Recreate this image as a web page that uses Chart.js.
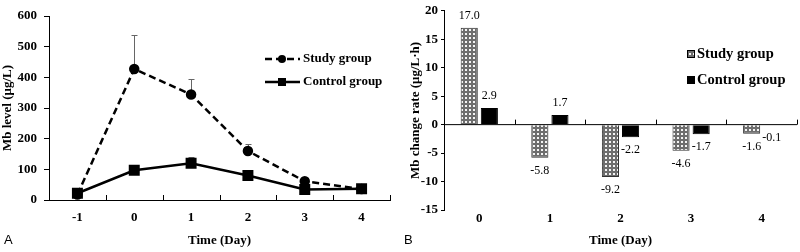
<!DOCTYPE html>
<html>
<head>
<meta charset="utf-8">
<script src="https://cdn.jsdelivr.net/npm/chart.js@4"></script>
<style>
  body { margin: 0; background: #fff; }
  #wrap { position: relative; width: 800px; height: 252px; }
  .panel { position: absolute; top: 0; width: 400px; height: 252px; }
  .tag { position: absolute; top: 232px; font: 13px 'Liberation Sans', Arial, sans-serif; color: #000; }
</style>
</head>
<body>
<div id="wrap">
  <div class="panel" style="left:0"><canvas id="chartA" width="400" height="252"></canvas></div>
  <div class="panel" style="left:400px"><canvas id="chartB" width="400" height="252"></canvas></div>
  <div class="tag" style="left:4px">A</div>
  <div class="tag" style="left:404px">B</div>
</div>
<script>
// Panel A: Mb level over time
const daysA = ['-1', '0', '1', '2', '3', '4'];
const studyMb = [18, 427, 344, 160, 61, 36];
const studyErr = [2, 110, 52, 21, 5, 3];
const controlMb = [22, 97, 120, 80, 34, 37];
const controlErr = [3, 7, 21, 7, 3, 3];

// Panel B: Mb change rate
const daysB = ['0', '1', '2', '3', '4'];
const studyRate = [17.0, -5.8, -9.2, -4.6, -1.6];
const controlRate = [2.9, 1.7, -2.2, -1.7, -0.1];

const serif = "'Liberation Serif', 'Times New Roman', serif";
Chart.defaults.font.family = serif;
Chart.defaults.color = '#000';

// crosshatch fill like the original (gray lattice, white dots)
function hatch() {
  const c = document.createElement('canvas');
  c.width = 4; c.height = 4;
  const g = c.getContext('2d');
  g.fillStyle = '#6e6e6e';
  g.fillRect(0, 0, 4, 4);
  g.fillStyle = '#f4f4f4';
  g.fillRect(1, 1, 2, 2);
  return g.createPattern(c, 'repeat');
}
const hatchFill = hatch();

// small ticks pointing up from the category axis
const upTicks = {
  id: 'upTicks',
  afterDraw(chart, args, opts) {
    const x = chart.scales.x, a = chart.chartArea, ctx = chart.ctx;
    const y = opts.atZero ? chart.scales.y.getPixelForValue(0) : a.bottom;
    const n = x.ticks.length, w = (a.right - a.left) / n;
    ctx.save();
    ctx.strokeStyle = '#000';
    ctx.lineWidth = 1;
    ctx.beginPath();
    if (opts.atZero) { ctx.moveTo(a.left, y); ctx.lineTo(a.right, y); }
    for (let i = 1; i <= n; i++) {
      const px = Math.round(a.left + i * w) + 0.5;
      ctx.moveTo(px, y); ctx.lineTo(px, y - 5);
    }
    ctx.stroke();
    ctx.restore();
  }
};

const errorBars = {
  id: 'errorBars',
  beforeDatasetsDraw(chart) {
    const ctx = chart.ctx, ys = chart.scales.y;
    const errs = [studyErr, controlErr];
    ctx.save();
    ctx.strokeStyle = '#666';
    ctx.lineWidth = 1;
    chart.data.datasets.forEach((ds, i) => {
      chart.getDatasetMeta(i).data.forEach((pt, j) => {
        const x = Math.round(pt.x) + 0.5;
        const y0 = ys.getPixelForValue(ds.data[j]);
        const y1 = Math.round(ys.getPixelForValue(ds.data[j] + errs[i][j])) + 0.5;
        ctx.beginPath();
        ctx.moveTo(x, y0); ctx.lineTo(x, y1);
        ctx.moveTo(x - 3, y1); ctx.lineTo(x + 3, y1);
        ctx.stroke();
      });
    });
    ctx.restore();
  }
};

const legendA = {
  id: 'legendA',
  afterDraw(chart) {
    const ctx = chart.ctx;
    const rows = [
      { y: 59, text: 'Study group', dash: [7, 4], marker: 'circle' },
      { y: 82, text: 'Control group', dash: [], marker: 'rect' }
    ];
    ctx.save();
    rows.forEach(r => {
      ctx.strokeStyle = '#000';
      ctx.lineWidth = 2.5;
      ctx.setLineDash(r.dash);
      ctx.beginPath();
      ctx.moveTo(265, r.y); ctx.lineTo(300, r.y);
      ctx.stroke();
      ctx.setLineDash([]);
      ctx.fillStyle = '#000';
      if (r.marker === 'circle') {
        ctx.beginPath(); ctx.arc(282, r.y, 4, 0, Math.PI * 2); ctx.fill();
      } else {
        ctx.fillRect(278, r.y - 4, 8, 8);
      }
      ctx.font = 'bold 13px ' + serif;
      ctx.textBaseline = 'middle';
      ctx.fillText(r.text, 303, r.y);
    });
    ctx.restore();
  }
};

new Chart(document.getElementById('chartA'), {
  type: 'line',
  data: {
    labels: daysA,
    datasets: [
      {
        label: 'Study group', data: studyMb,
        borderColor: '#000', borderWidth: 2.5, borderDash: [7, 4],
        pointStyle: 'circle', pointRadius: 4,
        pointBackgroundColor: '#000', pointBorderColor: '#000'
      },
      {
        label: 'Control group', data: controlMb,
        borderColor: '#000', borderWidth: 2.5,
        pointStyle: 'rect', pointRadius: 6,
        pointBackgroundColor: '#000', pointBorderColor: '#000'
      }
    ]
  },
  options: {
    responsive: false,
    animation: false,
    layout: { padding: { left: 0, top: 16, right: 10, bottom: 0 } },
    plugins: { legend: { display: false }, tooltip: { enabled: false }, upTicks: {} },
    scales: {
      x: {
        offset: true,
        grid: { display: false, drawTicks: false },
        border: { display: true, color: '#000', width: 1 },
        ticks: { font: { size: 13, weight: 'bold' }, padding: 10 },
        title: { display: true, text: 'Time (Day)', font: { size: 13, weight: 'bold' }, padding: { top: 0, bottom: 4 } },
        afterFit(s) { s.height = 52; }
      },
      y: {
        min: 0, max: 600,
        ticks: { stepSize: 100, font: { size: 13, weight: 'bold' }, padding: 7 },
        grid: { drawOnChartArea: false, tickLength: 5, color: '#000' },
        border: { color: '#000', width: 1 },
        title: { display: true, text: 'Mb level (μg/L)', font: { size: 13, weight: 'bold' }, padding: 0 },
        afterFit(s) { s.width = 49; }
      }
    }
  },
  plugins: [errorBars, upTicks, legendA]
});

const barLabels = {
  id: 'barLabels',
  afterDatasetsDraw(chart) {
    const ctx = chart.ctx;
    ctx.save();
    ctx.font = '12px ' + serif;
    ctx.fillStyle = '#000';
    ctx.textAlign = 'center';
    ctx.textBaseline = 'middle';
    chart.data.datasets.forEach((ds, i) => {
      chart.getDatasetMeta(i).data.forEach((bar, j) => {
        const v = ds.data[j];
        ctx.fillText(v.toFixed(1), bar.x, v >= 0 ? bar.y - 12 : bar.y + 13);
      });
    });
    ctx.restore();
  }
};

const legendB = {
  id: 'legendB',
  afterDraw(chart) {
    const ctx = chart.ctx;
    const rows = [
      { y: 54, text: 'Study group', fill: hatchFill },
      { y: 80, text: 'Control group', fill: '#000' }
    ];
    ctx.save();
    rows.forEach(r => {
      ctx.fillStyle = r.fill;
      ctx.fillRect(287, r.y - 4, 8, 8);
      ctx.strokeStyle = '#000';
      ctx.lineWidth = 1;
      ctx.strokeRect(287.5, r.y - 3.5, 7, 7);
      ctx.fillStyle = '#000';
      ctx.font = 'bold 14.5px ' + serif;
      ctx.textBaseline = 'middle';
      ctx.fillText(r.text, 297, r.y);
    });
    ctx.restore();
  }
};

new Chart(document.getElementById('chartB'), {
  type: 'bar',
  data: {
    labels: daysB,
    datasets: [
      { label: 'Study group', data: studyRate, backgroundColor: hatchFill, borderColor: '#333', borderWidth: 1 },
      { label: 'Control group', data: controlRate, backgroundColor: '#000', borderColor: '#000', borderWidth: 1 }
    ]
  },
  options: {
    responsive: false,
    animation: false,
    categoryPercentage: 0.57,
    barPercentage: 0.85,
    layout: { padding: { left: 0, top: 7, right: 3, bottom: 0 } },
    plugins: { legend: { display: false }, tooltip: { enabled: false }, upTicks: { atZero: true } },
    scales: {
      x: {
        grid: { display: false, drawTicks: false },
        border: { display: false },
        ticks: { font: { size: 13, weight: 'bold' }, padding: 1 },
        title: { display: true, text: 'Time (Day)', font: { size: 13, weight: 'bold' }, padding: { top: 0, bottom: 4 } },
        afterFit(s) { s.height = 42; }
      },
      y: {
        min: -15, max: 20,
        ticks: { stepSize: 5, font: { size: 13, weight: 'bold' }, padding: 3 },
        grid: { drawOnChartArea: false, tickLength: 3, color: '#000' },
        border: { color: '#000', width: 1 },
        title: { display: true, text: 'Mb change rate (μg/L·h)', font: { size: 13, weight: 'bold' }, padding: { top: 8, bottom: 0 } },
        afterFit(s) { s.width = 44; }
      }
    }
  },
  plugins: [upTicks, barLabels, legendB]
});
</script>
</body>
</html>
